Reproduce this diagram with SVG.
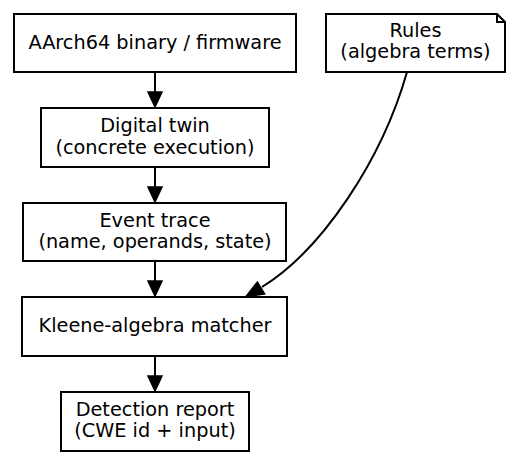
<svg xmlns="http://www.w3.org/2000/svg" width="519" height="465" viewBox="0 0 519 465">
<style>
.box{fill:#fff;stroke:#000;stroke-width:2}
.edge{fill:none;stroke:#000;stroke-width:2}
.head{fill:#000;stroke:#000;stroke-width:1.5}
text{font-family:"DejaVu Sans",sans-serif;font-size:19.3px;text-anchor:middle;fill:#000}
</style>
<rect width="519" height="465" fill="#fff"/>
<g id="connectors">
<path class="edge" d="M155 72 V92"/>
<polygon class="head" points="148,92 162,92 155,107"/>
<path class="edge" d="M155 167 V187"/>
<polygon class="head" points="148,187 162,187 155,202"/>
<path class="edge" d="M155 261 V281"/>
<polygon class="head" points="148,281 162,281 155,296"/>
<path class="edge" d="M155 356 V376"/>
<polygon class="head" points="148,376 162,376 155,391"/>
<path class="edge" d="M407 72 C382 160 322 250 262 287"/>
<polygon class="head" points="246,296.5 264.6,294 257.4,282"/>
</g>
<g id="binary">
<rect class="box" x="14" y="14" width="282" height="58"/>
<text x="155" y="48.5">AArch64 binary / firmware</text>
</g>
<g id="rules">
<polygon class="box" points="326,14 497,14 505,22 505,72 326,72"/>
<polyline class="edge" points="497,14 497,22 505,22"/>
<text x="415.5" y="36.7">Rules</text>
<text x="415.5" y="58.3">(algebra terms)</text>
</g>
<g id="twin">
<rect class="box" x="41" y="108" width="228" height="59"/>
<text x="155" y="132.3">Digital twin</text>
<text x="155" y="154">(concrete execution)</text>
</g>
<g id="trace">
<rect class="box" x="23" y="203" width="263" height="58"/>
<text x="155" y="226.7">Event trace</text>
<text x="155" y="248.3">(name, operands, state)</text>
</g>
<g id="matcher">
<rect class="box" x="22" y="297" width="265" height="59"/>
<text x="155" y="332.3">Kleene-algebra matcher</text>
</g>
<g id="report">
<rect class="box" x="61" y="392" width="188" height="59"/>
<text x="155" y="416">Detection report</text>
<text x="155" y="437.3">(CWE id + input)</text>
</g>
</svg>
